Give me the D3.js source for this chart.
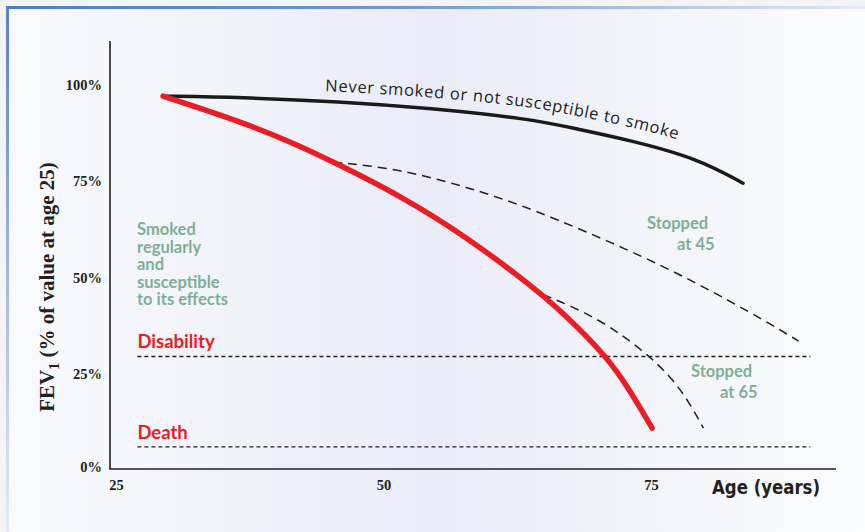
<!DOCTYPE html>
<html>
<head>
<meta charset="utf-8">
<script src="https://cdn.jsdelivr.net/npm/d3@7"></script>
<style>
    html, body { margin: 0; padding: 0; background: #f4f4f6; }
    #canvas { width: 865px; height: 532px; }
</style>
</head>
<body>
<div id="canvas"></div>
<script>
"use strict";

/* ---------------- DATA ---------------- */
let xTicks = [25, 50, 75];
let yTicks = [0, 25, 50, 75, 100];

let neverAge = [29.4, 36.6, 45.9, 54.3, 63.7, 67.7, 73.0, 79.3, 83.6];
let neverPct = [97.1, 96.8, 95.7, 94.0, 91.2, 88.8, 85.7, 81.0, 74.5];

let smokerAge = [29.4, 36.6, 42.2, 45.3, 51.5, 57.8, 64.0, 66.8, 70.9, 73.0, 75.1];
let smokerPct = [97.1, 90.6, 84.2, 80.0, 71.4, 60.5, 47.5, 40.8, 29.4, 20.8, 10.9];

let stop45Age = [45.3, 51.5, 57.8, 63.7, 73.0, 79.3, 85.5, 88.8];
let stop45Pct = [80.0, 78.2, 73.5, 68.1, 57.1, 48.6, 39.0, 33.5];

let stop65Age = [64.9, 70.0, 74.6, 77.1, 78.6, 79.9];
let stop65Pct = [45.6, 39.7, 30.4, 23.4, 17.4, 10.9];

let thresholdNames = ["Disability", "Death"];
let thresholdPct = [29.5, 6];
let thresholdAgeRange = [27, 89.9];

let svgWidth = 865;
let svgHeight = 532;

let svg = d3.select("#canvas")
    .append("svg")
    .attr("width", svgWidth)
    .attr("height", svgHeight);

/* ---------------- BACKGROUND ---------------- */
let defs = svg.append("defs");

let bgGrad = defs.append("linearGradient").attr("id", "bgGrad");
bgGrad.append("stop").attr("offset", "0%").attr("stop-color", "#f9fafd");
bgGrad.append("stop").attr("offset", "50%").attr("stop-color", "#e9ecf7");
bgGrad.append("stop").attr("offset", "100%").attr("stop-color", "#fbfcfd");

let topGrad = defs.append("linearGradient").attr("id", "topGrad");
topGrad.append("stop").attr("offset", "0%").attr("stop-color", "#4a7fc6");
topGrad.append("stop").attr("offset", "45%").attr("stop-color", "#6e97d2");
topGrad.append("stop").attr("offset", "100%").attr("stop-color", "#e4e9f4");

let leftGrad = defs.append("linearGradient")
    .attr("id", "leftGrad")
    .attr("x1", 0).attr("y1", 0).attr("x2", 0).attr("y2", 1);
leftGrad.append("stop").attr("offset", "0%").attr("stop-color", "#5584c8");
leftGrad.append("stop").attr("offset", "100%").attr("stop-color", "#e6ebf6");

svg.append("rect")
    .attr("x", 6).attr("y", 6)
    .attr("width", svgWidth - 6).attr("height", svgHeight - 6)
    .attr("fill", "url(#bgGrad)");

svg.append("rect")
    .attr("x", 6).attr("y", 6)
    .attr("width", svgWidth - 6).attr("height", 3)
    .attr("fill", "url(#topGrad)");

svg.append("rect")
    .attr("x", 6).attr("y", 6)
    .attr("width", 3).attr("height", svgHeight - 6)
    .attr("fill", "url(#leftGrad)");

/* ---------------- SCALES ---------------- */
let xScale = d3.scaleLinear()
    .domain([25, 75])
    .range([116, 651]);

let yScale = d3.scaleLinear()
    .domain([0, 100])
    .range([470, 85]);

function toPoints(ages, pcts) {
    return ages.map((a, i) => ({ age: a, pct: pcts[i] }));
}

// hand drawn curves, so smooth through the read points
let line = d3.line()
    .x(d => xScale(d.age))
    .y(d => yScale(d.pct))
    .curve(d3.curveBasis);

/* ---------------- AXES ---------------- */
let axisColor = "#231f20";

svg.append("line")
    .attr("x1", 110).attr("y1", 41)
    .attr("x2", 110).attr("y2", 469)
    .attr("stroke", axisColor)
    .attr("stroke-width", 1.6);

svg.append("line")
    .attr("x1", 109.2).attr("y1", 469)
    .attr("x2", 836).attr("y2", 469)
    .attr("stroke", axisColor)
    .attr("stroke-width", 1.6);

let yAxis = d3.axisLeft(yScale)
    .tickValues(yTicks)
    .tickSize(0)
    .tickPadding(0)
    .tickFormat(d => d + "%");

svg.append("g")
    .attr("transform", "translate(102,0)")
    .call(yAxis)
    .call(g => g.select(".domain").remove())
    .selectAll("text")
    .attr("font-family", "'Liberation Serif', 'DejaVu Serif', serif")
    .attr("font-weight", "bold")
    .attr("font-size", "14.5px")
    .attr("fill", "#231f20")
    .attr("dy", d => d === 0 ? "0.12em" : "0.32em");

let xAxis = d3.axisBottom(xScale)
    .tickValues(xTicks)
    .tickSize(0)
    .tickPadding(0);

svg.append("g")
    .attr("transform", "translate(0,480)")
    .call(xAxis)
    .call(g => g.select(".domain").remove())
    .selectAll("text")
    .attr("font-family", "'Liberation Serif', 'DejaVu Serif', serif")
    .attr("font-weight", "bold")
    .attr("font-size", "14.5px")
    .attr("fill", "#231f20");

/* ---------------- AXIS TITLES ---------------- */
let yTitle = svg.append("text")
    .attr("transform", "translate(54,287) rotate(-90)")
    .attr("text-anchor", "middle")
    .attr("font-family", "'Liberation Serif', 'DejaVu Serif', serif")
    .attr("font-weight", "bold")
    .attr("font-size", "21px")
    .attr("fill", "#231f20");

yTitle.append("tspan").text("FEV");
yTitle.append("tspan").attr("dy", 5).attr("font-size", "14px").text("1");
yTitle.append("tspan").attr("dy", -5).text(" (% of value at age 25)");

svg.append("text")
    .attr("x", 712)
    .attr("y", 494)
    .attr("font-family", "'Liberation Sans Narrow', 'DejaVu Sans Condensed', sans-serif")
    .attr("font-weight", "bold")
    .attr("font-size", "20px")
    .attr("textLength", 108)
    .attr("lengthAdjust", "spacingAndGlyphs")
    .attr("fill", "#231f20")
    .text("Age (years)");

/* ---------------- THRESHOLD LINES ---------------- */
let red = "#ec1c24";
let green = "#7fae97";

thresholdPct.forEach(function (p, i) {
    svg.append("line")
        .attr("x1", xScale(thresholdAgeRange[0]))
        .attr("x2", xScale(thresholdAgeRange[1]))
        .attr("y1", yScale(p))
        .attr("y2", yScale(p))
        .attr("stroke", "#231f20")
        .attr("stroke-width", 1.4)
        .attr("stroke-dasharray", "4,3");

    svg.append("text")
        .attr("x", xScale(thresholdAgeRange[0]))
        .attr("y", yScale(p) - 8)
        .attr("font-family", "Lato, 'Open Sans', sans-serif")
        .attr("font-weight", "bold")
        .attr("font-size", "18.5px")
        .attr("fill", red)
        .text(thresholdNames[i]);
});

/* ---------------- CURVES ---------------- */
let dashes = "9,6";

svg.append("path")
    .datum(toPoints(stop45Age, stop45Pct))
    .attr("d", line)
    .attr("fill", "none")
    .attr("stroke", "#231f20")
    .attr("stroke-width", 1.5)
    .attr("stroke-dasharray", dashes);

svg.append("path")
    .datum(toPoints(stop65Age, stop65Pct))
    .attr("d", line)
    .attr("fill", "none")
    .attr("stroke", "#231f20")
    .attr("stroke-width", 1.5)
    .attr("stroke-dasharray", dashes);

svg.append("path")
    .datum(toPoints(neverAge, neverPct))
    .attr("d", line)
    .attr("fill", "none")
    .attr("stroke", "#1a1a1a")
    .attr("stroke-width", 3.5)
    .attr("stroke-linecap", "round");

svg.append("path")
    .datum(toPoints(smokerAge, smokerPct))
    .attr("d", line)
    .attr("fill", "none")
    .attr("stroke", red)
    .attr("stroke-width", 5.5)
    .attr("stroke-linecap", "round");

/* ---------------- CURVED LABEL ---------------- */
let labelLine = d3.line()
    .x(d => xScale(d.age))
    .y(d => yScale(d.pct) - 8 - (xScale(d.age) - 163) * 0.012)
    .curve(d3.curveBasis);

defs.append("path")
    .attr("id", "neverPath")
    .datum(toPoints(neverAge, neverPct))
    .attr("d", labelLine);

svg.append("text")
    .attr("font-family", "'Open Sans', Lato, sans-serif")
    .attr("font-weight", 500)
    .attr("font-size", "16.5px")
    .attr("fill", "#231f20")
    .append("textPath")
    .attr("href", "#neverPath")
    .attr("startOffset", 162)
    .attr("textLength", 356)
    .attr("lengthAdjust", "spacing")
    .text("Never smoked or not susceptible to smoke");

/* ---------------- GREEN ANNOTATIONS ---------------- */
function greenLines(lines, xs, y0, step) {
    let t = svg.append("text")
        .attr("font-family", "Lato, 'Open Sans', sans-serif")
        .attr("font-weight", "bold")
        .attr("font-size", "16.5px")
        .attr("fill", green);
    lines.forEach(function (s, i) {
        t.append("tspan")
            .attr("x", xs[i])
            .attr("y", y0 + i * step)
            .text(s);
    });
}

greenLines(["Smoked", "regularly", "and", "susceptible", "to its effects"],
    [137, 137, 137, 137, 137], 235, 17.5);

greenLines(["Stopped", "at 45"], [647, 677], 229, 21);
greenLines(["Stopped", "at 65"], [691, 720], 377, 21);
</script>
</body>
</html>
